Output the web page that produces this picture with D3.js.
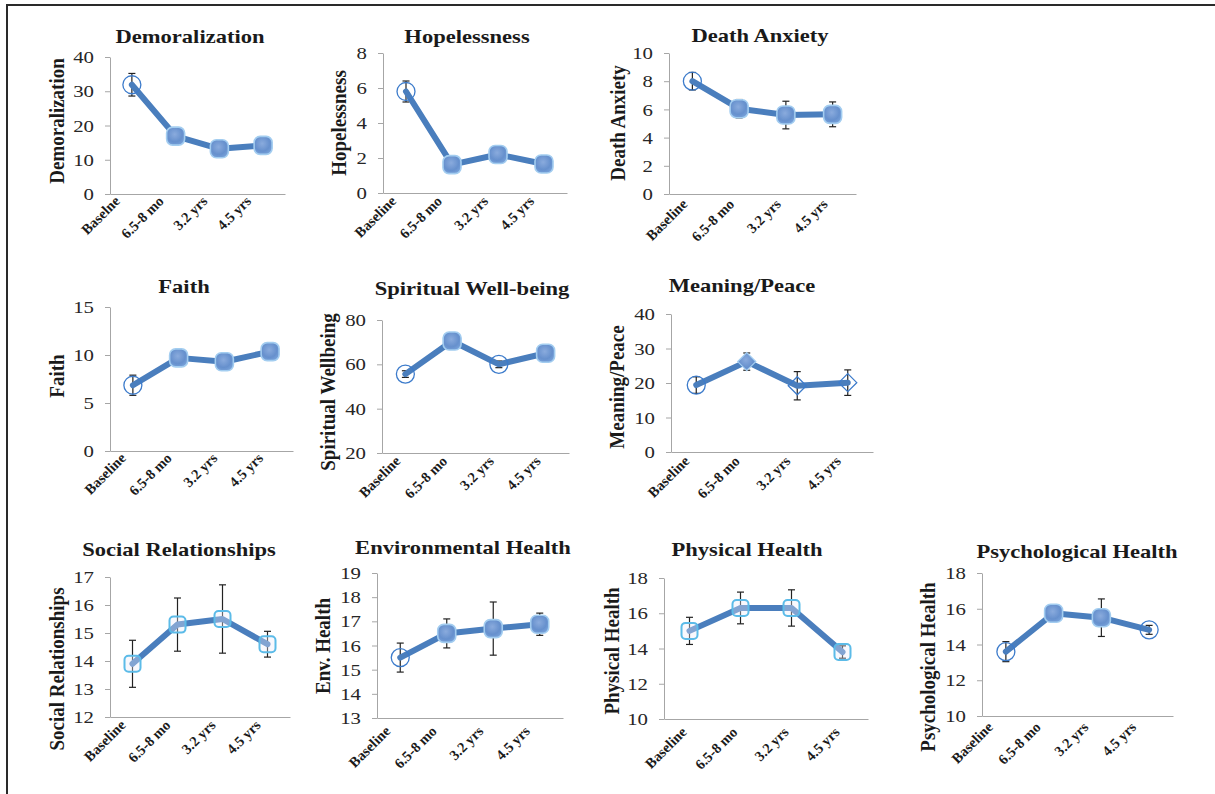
<!DOCTYPE html>
<html>
<head>
<meta charset="utf-8">
<script src="https://cdn.jsdelivr.net/npm/d3@7"></script>
<style>
  html, body { margin: 0; padding: 0; background: #fff; }
  svg { display: block; }
</style>
</head>
<body>
<script>
// ---- Data: mean scores (with error bar half-widths) at each follow-up ----
const timepoints = ["Baseline", "6.5-8 mo", "3.2 yrs", "4.5 yrs"];
const demoralizationTimepoints = ["Baselne", "6.5-8 mo", "3.2 yrs", "4.5 yrs"];

const demoralization = [31.9, 16.9, 13.2, 14.2];
const demoralizationErr = [3.3, 2.3, 1.0, 2.4];
const hopelessness = [5.8, 1.62, 2.2, 1.66];
const hopelessnessErr = [0.6, 0.35, 0.45, 0.4];
const deathAnxiety = [8.0, 6.05, 5.6, 5.65];
const deathAnxietyErr = [0.62, 0.65, 0.98, 0.88];
const faith = [6.85, 9.7, 9.3, 10.35];
const faithErr = [1.05, 0.85, 0.8, 0.4];
const spiritualWellbeing = [55.6, 70.5, 60.0, 65.0];
const spiritualWellbeingErr = [1.5, 1.8, 1.5, 1.5];
const meaningPeace = [19.4, 26.2, 19.2, 20.1];
const meaningPeaceErr = [2.4, 2.5, 4.1, 3.7];
const socialRelationships = [13.9, 15.3, 15.5, 14.6];
const socialRelationshipsErr = [0.84, 0.95, 1.22, 0.46];
const environmentalHealth = [15.5, 16.5, 16.7, 16.88];
const environmentalHealthErr = [0.6, 0.6, 1.1, 0.46];
const physicalHealth = [15.0, 16.3, 16.3, 13.8];
const physicalHealthErr = [0.77, 0.9, 1.03, 0.35];
const psychologicalHealth = [13.6, 15.75, 15.5, 14.82];
const psychologicalHealthErr = [0.56, 0.47, 1.05, 0.25];

// y-axis tick values for each measure
const demoralizationTicks = [0, 10, 20, 30, 40];
const hopelessnessTicks = [0, 2, 4, 6, 8];
const deathAnxietyTicks = [0, 2, 4, 6, 8, 10];
const faithTicks = [0, 5, 10, 15];
const spiritualWellbeingTicks = [20, 40, 60, 80];
const meaningPeaceTicks = [0, 10, 20, 30, 40];
const socialRelationshipsTicks = [12, 13, 14, 15, 16, 17];
const environmentalHealthTicks = [13, 14, 15, 16, 17, 18, 19];
const physicalHealthTicks = [10, 12, 14, 16, 18];
const psychologicalHealthTicks = [10, 12, 14, 16, 18];

// ---- Panel layout (plot box, titles, marker styles) ----
const panels = [
  { title: "Demoralization", yTitle: "Demoralization", cats: demoralizationTimepoints,
    values: demoralization, err: demoralizationErr, ticks: demoralizationTicks,
    box: [110, 285, 57, 194], titleXY: [190, 43], yTitleXY: [57, 121], lab: [-11, 8],
    markers: ["circle", "filled", "filled", "filled"] },
  { title: "Hopelessness", yTitle: "Hopelessness", cats: timepoints,
    values: hopelessness, err: hopelessnessErr, ticks: hopelessnessTicks,
    box: [383, 567, 53, 193], titleXY: [467, 43], yTitleXY: [339, 123], lab: [-9, 9],
    markers: ["circle", "filled", "filled", "filled"] },
  { title: "Death Anxiety", yTitle: "Death Anxiety", cats: timepoints,
    values: deathAnxiety, err: deathAnxietyErr, ticks: deathAnxietyTicks,
    box: [669, 856, 53, 194], titleXY: [760, 42], yTitleXY: [618, 123], lab: [-4, 11],
    markers: ["circle", "filled", "filled", "filled"] },
  { title: "Faith", yTitle: "Faith", cats: timepoints,
    values: faith, err: faithErr, ticks: faithTicks,
    box: [110, 293, 307, 451], titleXY: [184, 293], yTitleXY: [57, 376], lab: [-6, 8],
    markers: ["circle", "filled", "filled", "filled"] },
  { title: "Spiritual Well-being", yTitle: "Spiritual Wellbeing", cats: timepoints,
    values: spiritualWellbeing, err: spiritualWellbeingErr, ticks: spiritualWellbeingTicks,
    box: [382, 569, 320, 453], titleXY: [472, 295], yTitleXY: [328, 392], lab: [-4, 9],
    markers: ["circle", "filled", "circle", "filled"] },
  { title: "Meaning/Peace", yTitle: "Meaning/Peace", cats: timepoints,
    values: meaningPeace, err: meaningPeaceErr, ticks: meaningPeaceTicks,
    box: [671, 873, 314, 452], titleXY: [742, 292], yTitleXY: [617, 387], lab: [-6, 10],
    markers: ["circle", "filledDiamond", "diamond", "diamond"] },
  { title: "Social Relationships", yTitle: "Social Relationships", cats: timepoints,
    values: socialRelationships, err: socialRelationshipsErr, ticks: socialRelationshipsTicks,
    box: [110, 290, 577, 717], titleXY: [179, 556], yTitleXY: [57, 669], lab: [-6, 9],
    markers: ["square", "square", "square", "square"] },
  { title: "Environmental Health", yTitle: "Env. Health", cats: timepoints,
    values: environmentalHealth, err: environmentalHealthErr, ticks: environmentalHealthTicks,
    box: [377, 563, 573, 718], titleXY: [463, 554], yTitleXY: [323, 646], lab: [-9, 14],
    markers: ["circle", "filled", "filled", "filled"] },
  { title: "Physical Health", yTitle: "Physical Health", cats: timepoints,
    values: physicalHealth, err: physicalHealthErr, ticks: physicalHealthTicks,
    box: [664, 868, 578, 719], titleXY: [747, 556], yTitleXY: [612, 651], lab: [-2, 14],
    markers: ["square", "square", "square", "square"] },
  { title: "Psychological Health", yTitle: "Psychological Health", cats: timepoints,
    values: psychologicalHealth, err: psychologicalHealthErr, ticks: psychologicalHealthTicks,
    box: [982, 1173, 573, 716], titleXY: [1077, 558], yTitleXY: [928, 667], lab: [-12, 12],
    markers: ["circle", "filled", "filled", "circle"] }
];

const W = 1215, H = 794;
const SERIF = "'Liberation Serif', 'Times New Roman', serif";
const LINE_COLOR = "#4a7ebd";
const TEXT_STRETCH = 1.22;
const TICK_STRETCH = 1.3;

const svg = d3.select("body").append("svg")
  .attr("width", W).attr("height", H)
  .style("font-family", SERIF);

svg.append("rect").attr("width", W).attr("height", H).attr("fill", "#fff");

// Gradients / soft glow for the filled markers
const defs = svg.append("defs");
const grad = defs.append("radialGradient").attr("id", "mkFill")
  .attr("cx", "45%").attr("cy", "40%").attr("r", "65%");
grad.append("stop").attr("offset", "0%").attr("stop-color", "#8aabdd");
grad.append("stop").attr("offset", "65%").attr("stop-color", "#6690cd");
grad.append("stop").attr("offset", "100%").attr("stop-color", "#78a2da");
const glow = defs.append("filter").attr("id", "soft")
  .attr("x", "-30%").attr("y", "-30%").attr("width", "160%").attr("height", "160%");
glow.append("feGaussianBlur").attr("stdDeviation", 0.7);

// Outer frame (top and left rules)
svg.append("path")
  .attr("d", `M7,${H} V5 H${W}`)
  .attr("fill", "none").attr("stroke", "#2a2a2a").attr("stroke-width", 2);

panels.forEach(p => {
  const [x0, x1, yT, yB] = p.box;
  const g = svg.append("g");
  const x = d3.scaleBand().domain(p.cats).range([x0, x1]);
  const y = d3.scaleLinear().domain(d3.extent(p.ticks)).range([yB, yT]);
  const cx = c => x(c) + x.bandwidth() / 2;

  // Y axis
  const yAx = g.append("g").attr("transform", `translate(${x0},0)`)
    .call(d3.axisLeft(y).tickValues(p.ticks).tickFormat(d3.format("d"))
      .tickSize(5).tickSizeOuter(0).tickPadding(11));
  yAx.select(".domain").attr("stroke", "#a6a6a6");
  yAx.selectAll(".tick line").attr("stroke", "#a6a6a6");
  yAx.selectAll(".tick text")
    .attr("font-family", SERIF).attr("font-size", 16).attr("fill", "#262626")
    .attr("x", null).attr("dy", null)
    .attr("dominant-baseline", "central")
    .attr("transform", `translate(-16,0) scale(${TICK_STRETCH},1)`);

  // X axis
  const xAx = g.append("g").attr("transform", `translate(0,${yB})`)
    .call(d3.axisBottom(x).tickSize(0).tickSizeOuter(0).tickPadding(0));
  xAx.select(".domain").attr("stroke", "#a6a6a6");
  xAx.selectAll(".tick text")
    .attr("font-family", SERIF).attr("font-size", 14.5).attr("font-weight", "bold")
    .attr("fill", "#1a1a1a")
    .attr("y", 0).attr("dy", 0)
    .attr("text-anchor", "end")
    .attr("transform", `translate(${p.lab[0]},${p.lab[1]}) rotate(-45)`);

  // Error bars
  const eb = g.append("g").attr("stroke", "#222").attr("stroke-width", 1.2);
  p.cats.forEach((c, i) => {
    const lo = y(p.values[i] - p.err[i]), hi = y(p.values[i] + p.err[i]);
    eb.append("line").attr("x1", cx(c)).attr("x2", cx(c)).attr("y1", lo).attr("y2", hi);
    eb.append("line").attr("x1", cx(c) - 3.5).attr("x2", cx(c) + 3.5).attr("y1", lo).attr("y2", lo);
    eb.append("line").attr("x1", cx(c) - 3.5).attr("x2", cx(c) + 3.5).attr("y1", hi).attr("y2", hi);
  });

  // Trend line
  const line = d3.line().x((d, i) => cx(p.cats[i])).y(d => y(d));
  g.append("path").datum(p.values)
    .attr("d", line)
    .attr("fill", "none").attr("stroke", LINE_COLOR)
    .attr("stroke-width", 6).attr("stroke-linejoin", "round").attr("stroke-linecap", "round");

  // Markers
  p.cats.forEach((c, i) => {
    const mx = cx(c), my = y(p.values[i]);
    const type = p.markers[i];
    if (type === "circle") {
      g.append("circle").attr("cx", mx).attr("cy", my).attr("r", 9)
        .attr("fill", "none").attr("stroke", "#3c7bcb").attr("stroke-width", 1.3);
    } else if (type === "filled") {
      g.append("rect").attr("x", mx - 9).attr("y", my - 9)
        .attr("width", 18).attr("height", 18).attr("rx", 6)
        .attr("fill", "url(#mkFill)").attr("stroke", "#a3cdf0").attr("stroke-width", 1.6)
        .attr("filter", "url(#soft)");
    } else if (type === "square") {
      g.append("rect").attr("x", mx - 8).attr("y", my - 8)
        .attr("width", 16).attr("height", 16).attr("rx", 4)
        .attr("fill", "rgba(235,235,250,0.35)").attr("stroke", "#5bbbe8").attr("stroke-width", 2)
        .attr("filter", "url(#soft)");
    } else if (type === "diamond" || type === "filledDiamond") {
      const s = 9;
      g.append("path")
        .attr("d", `M${mx},${my - s} L${mx + s},${my} L${mx},${my + s} L${mx - s},${my} Z`)
        .attr("fill", type === "filledDiamond" ? "url(#mkFill)" : "none")
        .attr("stroke", type === "filledDiamond" ? "#a3cdf0" : "#3c7bcb")
        .attr("stroke-width", 1.3);
    }
  });

  // Panel title
  g.append("text")
    .attr("transform", `translate(${p.titleXY[0]},${p.titleXY[1]}) scale(${TEXT_STRETCH},1)`)
    .attr("text-anchor", "middle")
    .attr("font-size", 18.5).attr("font-weight", "bold").attr("fill", "#1a1a1a")
    .text(p.title);

  // Y-axis title
  g.append("text")
    .attr("transform", `translate(${p.yTitleXY[0]},${p.yTitleXY[1]}) rotate(-90) scale(1,1.15)`)
    .attr("text-anchor", "middle").attr("dominant-baseline", "central")
    .attr("font-size", 19).attr("font-weight", "bold").attr("fill", "#1a1a1a")
    .text(p.yTitle);
});
</script>
</body>
</html>
